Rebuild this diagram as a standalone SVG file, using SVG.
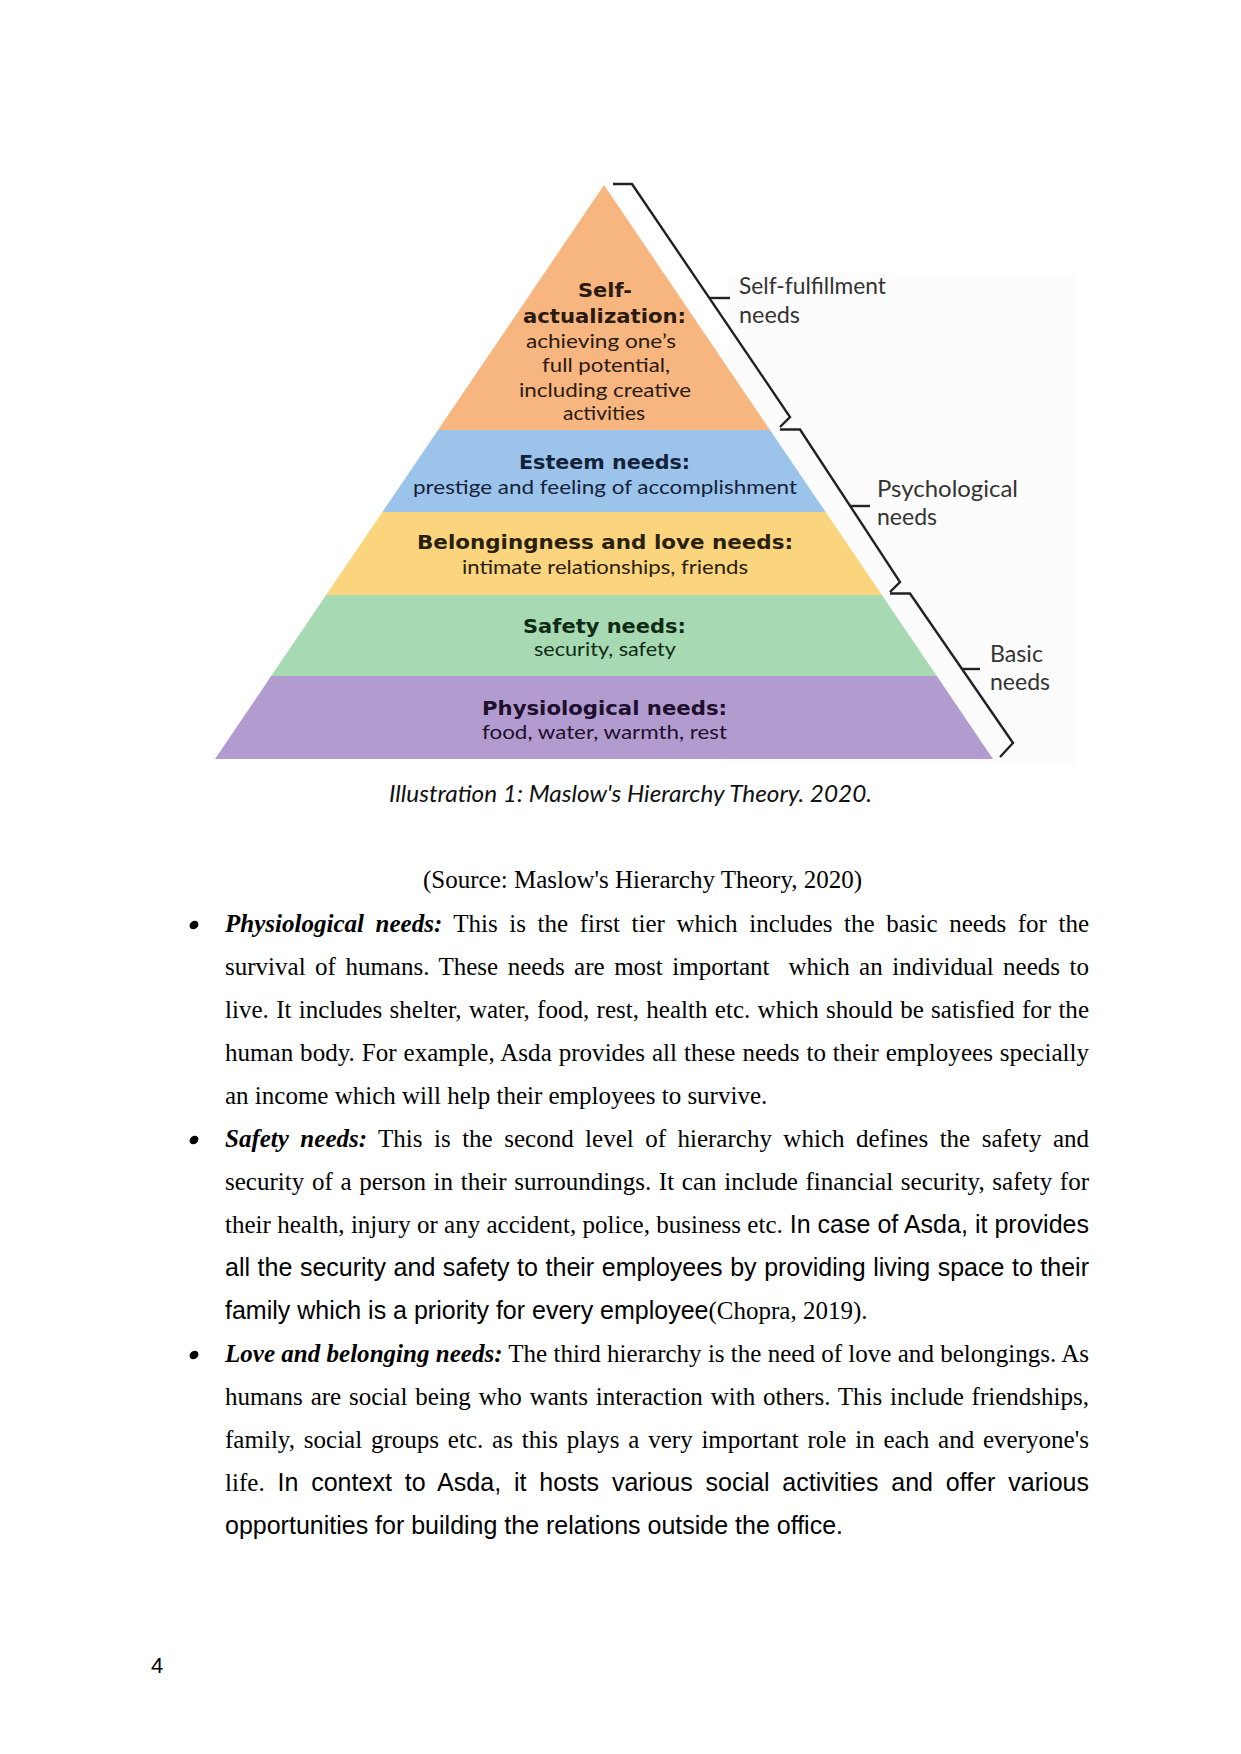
<svg xmlns="http://www.w3.org/2000/svg" width="1241" height="1754" viewBox="0 0 1241 1754">
<style>
.hd{font-family:"DejaVu Sans","Noto Sans",sans-serif;font-weight:bold;font-size:19.5px;text-anchor:middle}
.ds{font-family:Lato,"Noto Sans",sans-serif;font-size:20px;text-anchor:middle}
.lb{font-family:Lato,"Noto Sans",sans-serif;font-size:23px;fill:#333}
.br{fill:none;stroke:#222;stroke-width:2.4;stroke-linejoin:miter}
.b{font-family:"Liberation Serif","Times New Roman",serif;font-size:25px;fill:#000}
.bi{font-weight:bold;font-style:italic}
.sa{font-family:"Liberation Sans",Arial,sans-serif}
.bul{fill:#000}
</style>
<rect width="1241" height="1754" fill="#fff"/>
<rect x="727" y="274" width="348" height="492" fill="#fcfcfc"/>

<g id="tier-self-actualization">
<polygon points="604,185 770,430 438,430" fill="#F7B580"/>
<g fill="#2a1a10">
<text class="hd" x="605" y="297" textLength="54" lengthAdjust="spacingAndGlyphs">Self-</text>
<text class="hd" x="604.5" y="323" textLength="163" lengthAdjust="spacingAndGlyphs">actualization:</text>
<text class="ds" x="601" y="348" textLength="150" lengthAdjust="spacingAndGlyphs">achieving one’s</text>
<text class="ds" x="606" y="372" textLength="128" lengthAdjust="spacingAndGlyphs">full potential,</text>
<text class="ds" x="605" y="397" textLength="172" lengthAdjust="spacingAndGlyphs">including creative</text>
<text class="ds" x="604" y="420" textLength="82" lengthAdjust="spacingAndGlyphs">activities</text>
</g>
</g>

<g id="tier-esteem">
<polygon points="438,430 770,430 825.6,512 382.4,512" fill="#9CC4EB"/>
<g fill="#14213a">
<text class="hd" x="604.5" y="469" textLength="171" lengthAdjust="spacingAndGlyphs">Esteem needs:</text>
<text class="ds" x="605" y="494" textLength="384" lengthAdjust="spacingAndGlyphs">prestige and feeling of accomplishment</text>
</g>
</g>

<g id="tier-belongingness">
<polygon points="382.4,512 825.6,512 881.9,595 326.1,595" fill="#FBD57D"/>
<g fill="#2a2010">
<text class="hd" x="605" y="549" textLength="376" lengthAdjust="spacingAndGlyphs">Belongingness and love needs:</text>
<text class="ds" x="605" y="574" textLength="286" lengthAdjust="spacingAndGlyphs">intimate relationships, friends</text>
</g>
</g>

<g id="tier-safety">
<polygon points="326.1,595 881.9,595 936.8,676 271.2,676" fill="#A7DAB2"/>
<g fill="#0f2a15">
<text class="hd" x="604.5" y="633" textLength="163" lengthAdjust="spacingAndGlyphs">Safety needs:</text>
<text class="ds" x="605" y="656" textLength="142" lengthAdjust="spacingAndGlyphs">security, safety</text>
</g>
</g>

<g id="tier-physiological">
<polygon points="271.2,676 936.8,676 993,759 215,759" fill="#B29CCF"/>
<g fill="#1e0f2e">
<text class="hd" x="604.5" y="715" textLength="245" lengthAdjust="spacingAndGlyphs">Physiological needs:</text>
<text class="ds" x="604.5" y="739" textLength="245" lengthAdjust="spacingAndGlyphs">food, water, warmth, rest</text>
</g>
</g>

<g id="brackets">
<path class="br" d="M613,184 H632 L790,417 L780,427"/>
<path class="br" d="M709,298 H730"/>
<path class="br" d="M780,429.5 H800 L900,582 L890,592"/>
<path class="br" d="M850,506 H870"/>
<path class="br" d="M890,593.5 H910 L1013,743 L1000,757"/>
<path class="br" d="M962,669 H980"/>
</g>

<g id="label-self-fulfillment">
<text class="lb" x="739" y="294" textLength="147" lengthAdjust="spacingAndGlyphs">Self-fulfillment</text>
<text class="lb" x="739" y="323" textLength="61" lengthAdjust="spacingAndGlyphs">needs</text>
</g>
<g id="label-psychological">
<text class="lb" x="877" y="497" textLength="141" lengthAdjust="spacingAndGlyphs">Psychological</text>
<text class="lb" x="877" y="525" textLength="60" lengthAdjust="spacingAndGlyphs">needs</text>
</g>
<g id="label-basic">
<text class="lb" x="990" y="662" textLength="53" lengthAdjust="spacingAndGlyphs">Basic</text>
<text class="lb" x="990" y="690" textLength="60" lengthAdjust="spacingAndGlyphs">needs</text>
</g>

<text x="630.5" y="802" font-family="Lato,'Noto Sans',sans-serif" font-style="italic" font-size="23" fill="#111" text-anchor="middle" textLength="483" lengthAdjust="spacingAndGlyphs">Illustration 1: Maslow's Hierarchy Theory. 2020.</text>

<text class="b" x="423" y="888">(Source: Maslow's Hierarchy Theory, 2020)</text>

<g id="body">
<ellipse class="bul" cx="194" cy="925" rx="4.8" ry="3.9" transform="rotate(-40 194 925)"/>
<ellipse class="bul" cx="194" cy="1140" rx="4.8" ry="3.9" transform="rotate(-40 194 1140)"/>
<ellipse class="bul" cx="194" cy="1355" rx="4.8" ry="3.9" transform="rotate(-40 194 1355)"/>

<text class="b" x="225" y="932" word-spacing="5.3" textLength="864" lengthAdjust="spacing"><tspan class="bi">Physiological needs:</tspan> This is the first tier which includes the basic needs for the</text>
<text class="b" x="225" y="975" xml:space="preserve" word-spacing="3.2" textLength="864" lengthAdjust="spacing">survival of humans. These needs are most important  which an individual needs to</text>
<text class="b" x="225" y="1018" word-spacing="1.0" textLength="864" lengthAdjust="spacing">live. It includes shelter, water, food, rest, health etc. which should be satisfied for the</text>
<text class="b" x="225" y="1061" word-spacing="0.6" textLength="864" lengthAdjust="spacing">human body. For example, Asda provides all these needs to their employees specially</text>
<text class="b" x="225" y="1104">an income which will help their employees to survive.</text>

<text class="b" x="225" y="1147" word-spacing="5.2" textLength="864" lengthAdjust="spacing"><tspan class="bi">Safety needs:</tspan> This is the second level of hierarchy which defines the safety and</text>
<text class="b" x="225" y="1190" word-spacing="1.36" textLength="864" lengthAdjust="spacing">security of a person in their surroundings. It can include financial security, safety for</text>
<text class="b" x="225" y="1233" textLength="864" lengthAdjust="spacing">their health, injury or any accident, police, business etc.<tspan class="sa"> In case of Asda, it provides</tspan></text>
<text class="b sa" x="225" y="1276" word-spacing="0.62" textLength="864" lengthAdjust="spacing">all the security and safety to their employees by providing living space to their</text>
<text class="b" x="225" y="1319"><tspan class="sa">family which is a priority for every employee</tspan>(Chopra, 2019).</text>

<text class="b" x="225" y="1362" textLength="864" lengthAdjust="spacing"><tspan class="bi">Love and belonging needs:</tspan> The third hierarchy is the need of love and belongings. As</text>
<text class="b" x="225" y="1405" word-spacing="1.6" textLength="864" lengthAdjust="spacing">humans are social being who wants interaction with others. This include friendships,</text>
<text class="b" x="225" y="1448" word-spacing="2.5" textLength="864" lengthAdjust="spacing">family, social groups etc. as this plays a very important role in each and everyone's</text>
<text class="b" x="225" y="1491" word-spacing="5.8" textLength="864" lengthAdjust="spacing">life.<tspan class="sa"> In context to Asda, it hosts various social activities and offer various</tspan></text>
<text class="b sa" x="225" y="1534">opportunities for building the relations outside the office.</text>
</g>

<text x="151" y="1673" font-family="'Liberation Sans',Arial,sans-serif" font-size="22" fill="#000">4</text>
</svg>
